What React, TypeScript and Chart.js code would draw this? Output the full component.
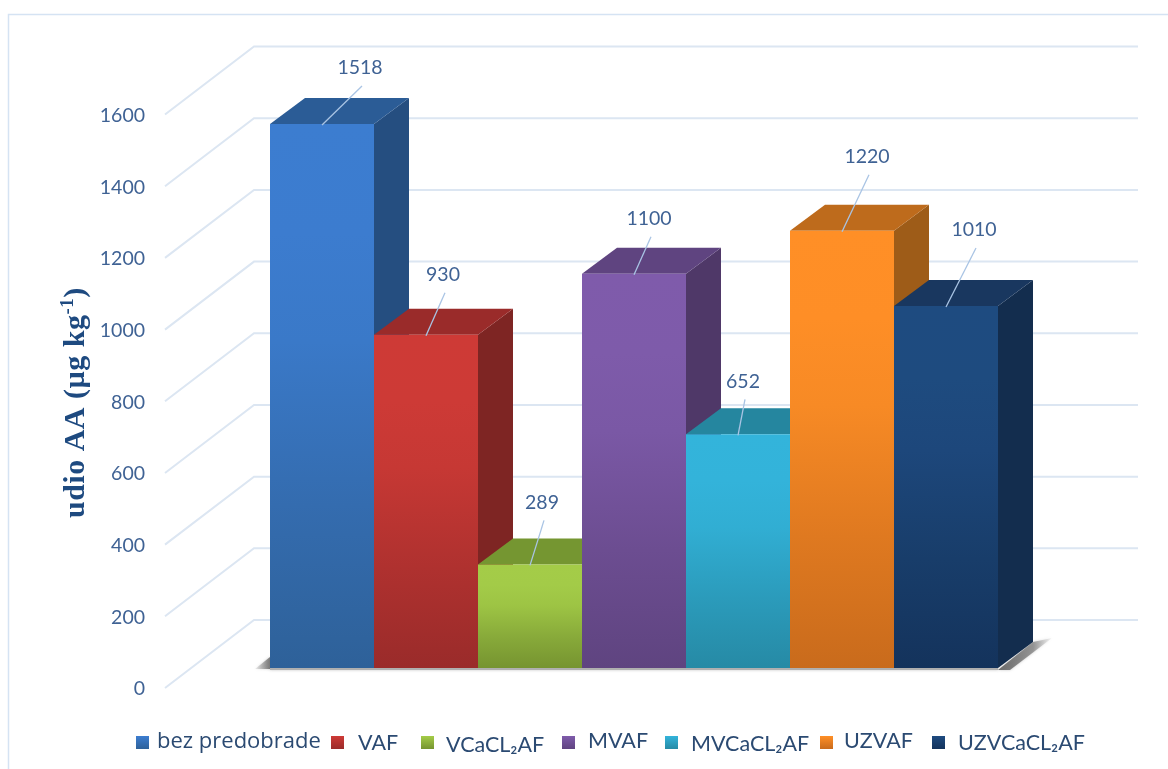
import React, { useEffect, useRef } from "react";
import { Chart, registerables } from "chart.js";

Chart.register(...registerables);

const categories = [""];
const seriesNames = ["bez predobrade", "VAF", "VCaCL₂AF", "MVAF", "MVCaCL₂AF", "UZVAF", "UZVCaCL₂AF"];
const seriesValues = [1518, 930, 289, 1100, 652, 1220, 1010];
const tickValues = [0, 200, 400, 600, 800, 1000, 1200, 1400, 1600];
const axisTitleMain = "udio AA (µg kg";
const axisTitleSup = "-1";
const axisTitleEnd = ")";

// styles
const frontTop = ["#3C7DD0", "#CE3A36", "#A4CC48", "#7F5BAB", "#33B4DB", "#FF8F26", "#1E4B80"];
const frontBottom = ["#2E6199", "#9A2B2A", "#769430", "#5F4480", "#268AA5", "#C96B1C", "#14335C"];
const topFace = ["#2B5C96", "#9A2B2A", "#759631", "#5F4480", "#25869F", "#BE6B1C", "#19375F"];
const sideFace = ["#254E80", "#7E2523", "#5F7A28", "#4F3868", "#1F7088", "#9E5C18", "#132D4E"];
const TEXT = "#3F6294";
const GRID = "#DCE6F2";
const FONT = "Lato";

// layout
const BAR_DX = 35;
const BAR_DY = -26;
const WALL_DX = 89;
const WALL_DY = -68;
const WALL_RIGHT = 1138;
const labelDx = [38, 17, 12, 15, 5, 25, 28];
const labelDy = [-56, -60, -62, -55, -53, -74, -76];
const legendSwatchX = [136, 331, 421, 562, 665, 820, 932];
const legendTextX = [157, 358, 446, 588, 691, 844, 958];
const legendTextY = [742, 743, 745, 741, 744, 741, 743];
const legendFont = ["22px 'Open Sans'", "21.5px Lato", "21.5px Lato", "21.5px Lato", "21.5px Lato", "21.5px Lato", "21.5px Lato"];

function poly(ctx: CanvasRenderingContext2D, pts: number[][], fill: string | CanvasGradient) {
  ctx.beginPath();
  pts.forEach((p, i) => (i ? ctx.lineTo(p[0], p[1]) : ctx.moveTo(p[0], p[1])));
  ctx.closePath();
  ctx.fillStyle = fill;
  ctx.fill();
}

function mix(a: string, b: string, t: number) {
  const ch = (h: string, k: number) => parseInt(h.slice(1 + k * 2, 3 + k * 2), 16);
  const parts = [0, 1, 2].map((k) => Math.round(ch(a, k) + (ch(b, k) - ch(a, k)) * t));
  return `rgb(${parts.join(",")})`;
}

const chart3d = {
  id: "chart3d",
  beforeDatasetsDraw(chart: any) {
    const { ctx, scales } = chart;
    const t = scales.yTicks;
    ctx.save();
    // frame
    ctx.strokeStyle = "#D5E3F3";
    ctx.lineWidth = 1.5;
    ctx.beginPath();
    ctx.moveTo(8.5, 769);
    ctx.lineTo(8.5, 14.5);
    ctx.lineTo(1168, 14.5);
    ctx.stroke();
    // wall grid and diagonals
    ctx.strokeStyle = GRID;
    ctx.lineWidth = 2;
    t.ticks.forEach((tk: any) => {
      const y = t.getPixelForValue(tk.value);
      ctx.beginPath();
      ctx.moveTo(t.left + t.width, y);
      ctx.lineTo(t.left + t.width + WALL_DX, y + WALL_DY);
      ctx.lineTo(WALL_RIGHT, y + WALL_DY);
      ctx.stroke();
    });
    // floor shadow
    const first = chart.getDatasetMeta(0).data[0];
    const last = chart.getDatasetMeta(seriesValues.length - 1).data[0];
    const l = first.x - first.width / 2;
    const r = last.x + last.width / 2;
    const b = first.base;
    ctx.save();
    ctx.shadowColor = "rgba(90,90,90,0.4)";
    ctx.shadowBlur = 3;
    const lg = ctx.createLinearGradient(l - 15, 0, l, 0);
    lg.addColorStop(0, "rgba(150,150,150,0.15)");
    lg.addColorStop(1, "rgba(110,110,110,0.9)");
    poly(ctx, [[l - 15, b + 1], [l, b - 11], [l, b + 1]], lg);
    poly(ctx, [[l, b], [r, b], [r, b + 2], [l, b + 2]], "#b0b0b0");
    const sg = ctx.createLinearGradient(r, 0, r + 54, 0);
    sg.addColorStop(0, "rgba(95,95,95,0.9)");
    sg.addColorStop(0.65, "rgba(120,120,120,0.7)");
    sg.addColorStop(1, "rgba(170,170,170,0.1)");
    poly(ctx, [[r, b + 2], [r + BAR_DX, b + BAR_DY], [r + 54, b + BAR_DY - 4], [r + 12, b + 2]], sg);
    ctx.restore();
    // side and top faces, left to right; the fronts are painted after them by the library
    seriesValues.forEach((_, i) => {
      const el = chart.getDatasetMeta(i).data[0];
      const fl = el.x - el.width / 2;
      const fr = el.x + el.width / 2;
      const top = el.y;
      const base = el.base;
      poly(ctx, [[fr, top], [fr + BAR_DX, top + BAR_DY], [fr + BAR_DX, base + BAR_DY], [fr, base]], sideFace[i]);
      poly(ctx, [[fl, top], [fl + BAR_DX, top + BAR_DY], [fr + BAR_DX, top + BAR_DY], [fr, top]], topFace[i]);
    });
    ctx.restore();
  },
  afterDatasetsDraw(chart: any) {
    const { ctx } = chart;
    ctx.save();
    // data labels and leaders
    seriesValues.forEach((v, i) => {
      const el = chart.getDatasetMeta(i).data[0];
      const lx = el.x + labelDx[i];
      const ly = el.y + labelDy[i];
      ctx.strokeStyle = "#A9C4E4";
      ctx.lineWidth = 1.3;
      ctx.beginPath();
      ctx.moveTo(el.x, el.y + 1);
      ctx.lineTo(lx + 2, ly + 18);
      ctx.stroke();
      ctx.fillStyle = TEXT;
      ctx.font = `19.5px ${FONT}`;
      ctx.textAlign = "center";
      ctx.textBaseline = "middle";
      ctx.fillText(String(v), lx, ly);
    });
    // legend
    chart.data.datasets.forEach((ds: any, i: number) => {
      const g = ctx.createLinearGradient(0, 736, 0, 749);
      g.addColorStop(0, frontTop[i]);
      g.addColorStop(1, frontBottom[i]);
      ctx.fillStyle = g;
      ctx.fillRect(legendSwatchX[i], 736, 13, 13);
      ctx.fillStyle = "#2B4A72";
      ctx.font = legendFont[i];
      ctx.textAlign = "left";
      ctx.textBaseline = "middle";
      ctx.fillText(ds.label, legendTextX[i], legendTextY[i]);
    });
    // axis title
    ctx.translate(84, 518);
    ctx.rotate(-Math.PI / 2);
    ctx.fillStyle = "#1E4A80";
    ctx.textAlign = "left";
    ctx.textBaseline = "alphabetic";
    (ctx as any).letterSpacing = "0.5px";
    ctx.font = "bold 30px 'Liberation Serif'";
    ctx.fillText(axisTitleMain, 0, 0);
    let x = ctx.measureText(axisTitleMain).width;
    ctx.font = "bold 19px 'Liberation Serif'";
    ctx.fillText(axisTitleSup, x, -11);
    x += ctx.measureText(axisTitleSup).width;
    ctx.font = "bold 30px 'Liberation Serif'";
    ctx.fillText(axisTitleEnd, x, 0);
    ctx.restore();
  },
};

export default function App() {
  const ref = useRef<HTMLCanvasElement>(null);
  useEffect(() => {
    const chart = new Chart(ref.current as HTMLCanvasElement, {
      type: "bar",
      data: {
        labels: categories,
        datasets: seriesNames.map((name, i) => ({
          label: name,
          data: [seriesValues[i]],
          yAxisID: "y",
          categoryPercentage: 728 / 938,
          barPercentage: 1,
          backgroundColor: (c: any) => {
            const s = c.chart.scales.y;
            if (!s || !c.chart.chartArea) return frontTop[i];
            const g = c.chart.ctx.createLinearGradient(0, s.getPixelForValue(seriesValues[i]), 0, s.getPixelForValue(0));
            g.addColorStop(0, frontTop[i]);
            g.addColorStop(0.2, mix(frontTop[i], frontBottom[i], 0.02));
            g.addColorStop(0.4, mix(frontTop[i], frontBottom[i], 0.15));
            g.addColorStop(0.7, mix(frontTop[i], frontBottom[i], 0.6));
            g.addColorStop(1, frontBottom[i]);
            return g;
          },
        })),
      },
      options: {
        responsive: false,
        animation: false,
        layout: { padding: { top: 47, right: 65, bottom: 81, left: 0 } },
        plugins: { legend: { display: false }, tooltip: { enabled: false }, title: { display: false } },
        scales: {
          x: { display: false },
          y: { display: false, min: -55.8, max: 1732.7 },
          yTicks: {
            position: "left",
            min: 0,
            max: 1788.5,
            grid: { display: false },
            border: { display: false },
            afterBuildTicks: (s: any) => { s.ticks = tickValues.map((value) => ({ value })); },
            afterFit: (s: any) => { s.width = 165; },
            ticks: {
              padding: 12,
              labelOffset: 1,
              color: TEXT,
              callback: (v: any) => String(v),
              font: { family: FONT, size: 19.5 },
            },
          },
        },
      },
      plugins: [chart3d],
    } as any);
    return () => chart.destroy();
  }, []);
  return (
    <canvas
      ref={ref}
      width={1168}
      height={769}
      style={{ position: "absolute", left: 0, top: 0, display: "block", filter: "blur(0.4px)" }}
    />
  );
}
